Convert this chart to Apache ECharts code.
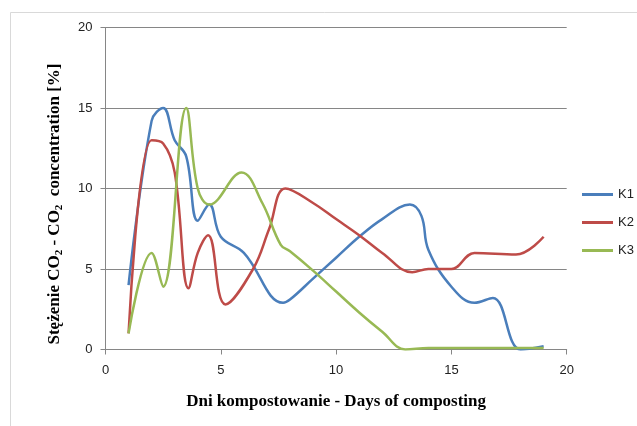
<!DOCTYPE html>
<html>
<head>
<meta charset="utf-8">
<script src="https://cdn.jsdelivr.net/npm/echarts@6/dist/echarts.min.js"></script>
<style>html,body{margin:0;padding:0;background:#fff}#c{width:637px;height:426px}</style>
</head>
<body>
<div id="c"></div>
<script>
// Data: [day, CO2 %]
const seriesNames = ['K1', 'K2', 'K3'];
const K1 = [[1,4],[2,14.2],[2.5,15],[3,13],[3.5,12],[4,8],[4.5,9],[5,7],[6,6],[7.7,2.9],[8,3.1],[9,4.4],[10,5.7],[11,7],[12,8.1],[13.2,9],[13.7,8.3],[14,6.2],[15,3.9],[16,2.9],[16.8,3.2],[18,0],[19,0.2]];
const K2 = [[1,1],[2,13],[2.5,12.8],[3,11],[3.6,3.8],[4,6],[4.45,7.1],[5.2,2.8],[6.4,5],[7.1,7.5],[7.8,10],[9,9.1],[10,8.1],[11,7.1],[12,6],[13.3,4.8],[14,5],[15,5],[16,6],[17.8,5.9],[19,7]];
const K3 = [[1,1],[2,6],[2.5,3.9],[3.5,15],[4,10],[4.5,9],[5.9,11],[6.8,9.1],[7.6,6.5],[8,6.1],[9,4.9],[10,3.6],[11,2.3],[12,1.1],[13,0],[14,0.1],[15,0.1],[16,0.1],[17,0.1],[18,0.1],[19,0.1]];
const xTicks = [0, 5, 10, 15, 20];
const yTicks = [0, 5, 10, 15, 20];
const colors = ['#4A7EBB', '#BE4B48', '#98B954'];

const chart = echarts.init(document.getElementById('c'), null, {renderer: 'canvas'});
const mk = (name, data, i) => ({
  name, type: 'line', data, smooth: 0.4, showSymbol: false, symbol: 'none',
  lineStyle: {width: 2.5, color: colors[i]}, itemStyle: {color: colors[i]}
});
chart.setOption({
  animation: false,
  backgroundColor: '#ffffff',
  grid: {left: 105.5, right: 70.3, top: 27.5, bottom: 76.5, containLabel: false},
  xAxis: {
    type: 'value', min: xTicks[0], max: xTicks[xTicks.length - 1], interval: 5,
    name: 'Dni kompostowanie - Days of composting', nameLocation: 'middle', nameGap: 44,
    nameTextStyle: {fontFamily: 'Liberation Serif', fontWeight: 'bold', fontSize: 17, color: '#000'},
    axisLine: {show: true, onZero: false, lineStyle: {color: '#868686', width: 1}},
    axisTick: {show: true, inside: false, length: 5, lineStyle: {color: '#868686'}},
    axisLabel: {margin: 14, fontFamily: 'Liberation Sans', fontSize: 13, color: '#222'},
    splitLine: {show: false}
  },
  yAxis: {
    type: 'value', min: yTicks[0], max: yTicks[yTicks.length - 1], interval: 5,
    axisLine: {show: true, lineStyle: {color: '#868686', width: 1}},
    axisTick: {show: true, inside: false, length: 5, lineStyle: {color: '#868686'}},
    axisLabel: {margin: 13, fontFamily: 'Liberation Sans', fontSize: 13, color: '#222'},
    splitLine: {show: true, lineStyle: {color: '#868686', width: 1}}
  },
  legend: {
    orient: 'vertical', left: 582, top: 188, itemGap: 15, padding: 0,
    icon: 'rect', itemWidth: 31, itemHeight: 3,
    textStyle: {fontFamily: 'Liberation Sans', fontSize: 13, color: '#222'},
    data: seriesNames
  },
  graphic: [
    {type: 'rect', shape: {x: 10.5, y: 12.5, width: 700, height: 500}, silent: true, z: -10,
     style: {fill: 'none', stroke: '#d9d9d9', lineWidth: 1}},
    {type: 'text', x: 55, y: 204, rotation: Math.PI / 2, silent: true,
     style: {
       text: '{a|Stężenie CO}{s|2}{a| - CO}{s|2}{a|  concentration [%]}',
       align: 'center', verticalAlign: 'middle',
       rich: {
         a: {fontFamily: 'Liberation Serif', fontWeight: 'bold', fontSize: 17, lineHeight: 20, fill: '#000'},
         s: {fontFamily: 'Liberation Serif', fontWeight: 'bold', fontSize: 11, lineHeight: 11, verticalAlign: 'bottom', fill: '#000'}
       }
     }}
  ],
  series: [mk('K1', K1, 0), mk('K2', K2, 1), mk('K3', K3, 2)]
});
</script>
</body>
</html>
